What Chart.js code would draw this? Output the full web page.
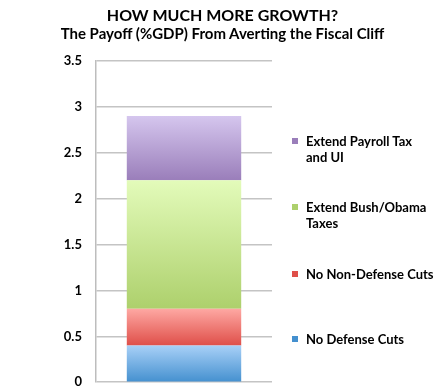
<!DOCTYPE html>
<html>
<head>
<meta charset="utf-8">
<script src="https://cdn.jsdelivr.net/npm/chart.js@4"></script>
<style>
  html, body { margin: 0; padding: 0; background: #fff; }
  #wrap { position: relative; width: 445px; height: 390px; overflow: hidden; }
  canvas { display: block; }
  #title { position: absolute; left: 0; top: 6px; width: 445px; text-align: center; font: bold 16px Lato, sans-serif; line-height: 18px; color: #000; }
  #title .sub { font-size: 15px; }
  #legend { position: absolute; left: 292px; top: 0; width: 150px; font: bold 13px Lato, sans-serif; color: #000; }
  .item { position: absolute; left: 0; width: 150px; line-height: 16px; }
  .sw { position: absolute; left: 0; top: 5px; width: 6px; height: 6px; }
  .txt { margin-left: 14px; }
</style>
</head>
<body>
<div id="wrap">
  <canvas id="chart" width="445" height="404"></canvas>
  <div id="title"></div>
  <div id="legend"></div>
</div>
<script>
const titleLines = ['HOW MUCH MORE GROWTH?', 'The Payoff (%GDP) From Averting the Fiscal Cliff'];
const categories = [''];
const seriesNames = ['No Defense Cuts', 'No Non-Defense Cuts', 'Extend Bush/Obama Taxes', 'Extend Payroll Tax and UI'];
const legendLines = [['No Defense Cuts'], ['No Non-Defense Cuts'], ['Extend Bush/Obama', 'Taxes'], ['Extend Payroll Tax', 'and UI']];
const defenseCuts = [0.4];
const nonDefenseCuts = [0.4];
const bushObamaTaxes = [1.4];
const payrollTaxUI = [0.7];
const yTicks = [0, 0.5, 1, 1.5, 2, 2.5, 3, 3.5];

const seriesValues = [defenseCuts, nonDefenseCuts, bushObamaTaxes, payrollTaxUI];
// top and bottom gradient colours per series
const gradients = [
    ['#a8d0f7', '#4490cf'],
    ['#fea8a3', '#df4f49'],
    ['#e3fbba', '#add06c'],
    ['#d5c6ee', '#9a7eba'],
];
const legendTops = [331, 266, 199, 133];

function segmentFill(ctx) {
    const chart = ctx.chart;
    const y = chart.scales.y;
    const g = gradients[ctx.datasetIndex];
    if (!y || ctx.dataIndex === undefined) return g[1];
    let base = 0;
    for (let i = 0; i < ctx.datasetIndex; i++) base += seriesValues[i][ctx.dataIndex];
    const top = base + seriesValues[ctx.datasetIndex][ctx.dataIndex];
    const y0 = y.getPixelForValue(top);
    const y1 = y.getPixelForValue(base);
    if (!isFinite(y0) || !isFinite(y1) || y0 === y1) return g[1];
    const grad = chart.ctx.createLinearGradient(0, y0, 0, y1);
    grad.addColorStop(0, g[0]);
    grad.addColorStop(1, g[1]);
    return grad;
}

new Chart(document.getElementById('chart'), {
    type: 'bar',
    data: {
        labels: categories,
        datasets: seriesValues.map((vals, i) => ({
            label: seriesNames[i],
            data: vals,
            backgroundColor: segmentFill,
            borderWidth: 0,
            categoryPercentage: 1,
            barPercentage: 0.65,
        })),
    },
    options: {
        responsive: false,
        animation: false,
        layout: { padding: { left: 0, right: 173, top: 61, bottom: 0 } },
        plugins: {
            legend: { display: false },
            tooltip: { enabled: false },
        },
        scales: {
            x: {
                stacked: true,
                display: false,
            },
            y: {
                stacked: true,
                min: 0,
                max: 3.5,
                afterBuildTicks: (axis) => { axis.ticks = yTicks.map(v => ({ value: v })); },
                afterFit: (axis) => { axis.width = 96; },
                border: { display: true, color: '#bdbdbd', width: 1.5 },
                grid: { color: '#c4c4c4', lineWidth: 1.5, drawTicks: false },
                ticks: {
                    color: '#000',
                    padding: 14,
                    font: { family: 'Lato', size: 13, weight: 'bold' },
                    callback: (v) => String(v),
                },
            },
        },
    },
});

document.getElementById('title').innerHTML = titleLines[0] + '<br><span class="sub">' + titleLines[1] + '</span>';

const legend = document.getElementById('legend');
for (let i = seriesNames.length - 1; i >= 0; i--) {
    const item = document.createElement('div');
    item.className = 'item';
    item.style.top = legendTops[i] + 'px';
    const sw = document.createElement('span');
    sw.className = 'sw';
    sw.style.background = gradients[i][1];
    const txt = document.createElement('div');
    txt.className = 'txt';
    txt.innerHTML = legendLines[i].join('<br>');
    item.appendChild(sw);
    item.appendChild(txt);
    legend.appendChild(item);
}
</script>
</body>
</html>
